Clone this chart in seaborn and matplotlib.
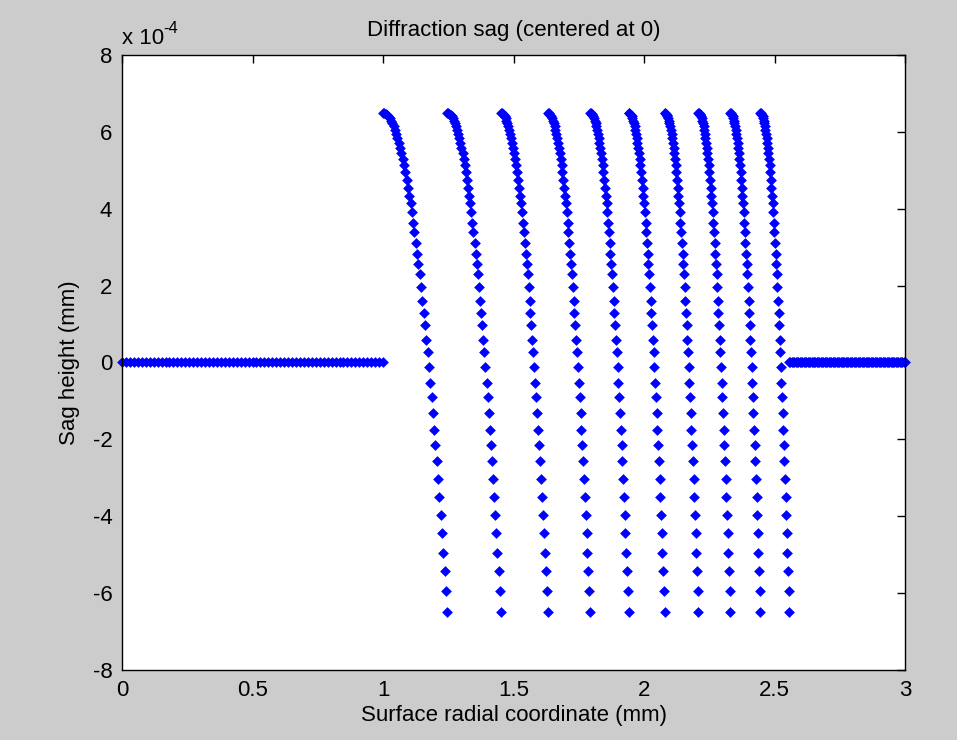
import numpy as np
import pandas as pd
import matplotlib
matplotlib.use("Agg")
import matplotlib.pyplot as plt
import matplotlib.ticker as mticker
import seaborn as sns

# flat parts of the profile (sag = 0): start, stop, number of samples
flat_left = (0.0, 1.0, 67)
flat_right = (2.556, 3.0, 89)

# zone edges (mm)
zone_edges = [1.0, 1.246, 1.451, 1.631, 1.793, 1.941, 2.079, 2.208, 2.330, 2.445, 2.556]

# sag levels inside one zone, in units of 1e-4 mm (same in every zone)
zone_sag = [6.50, 6.49, 6.47, 6.44, 6.40, 6.35, 6.29, 6.22, 6.14, 6.05,
            5.95, 5.84, 5.72, 5.59, 5.45, 5.30, 5.14, 4.96, 4.75, 4.55,
            4.34, 4.15, 3.91, 3.63, 3.39, 3.10, 2.83, 2.56, 2.29, 1.97,
            1.61, 1.29, 0.97, 0.59, 0.27, -0.11, -0.53, -0.90, -1.32, -1.75,
            -2.15, -2.57, -3.04, -3.51, -3.97, -4.44, -4.96, -5.43, -5.95, -6.50]

xs, ys = [], []
for a, b, n in (flat_left, flat_right):
    xs.append(np.linspace(a, b, n))
    ys.append(np.zeros(n))
for a, b in zip(zone_edges[:-1], zone_edges[1:]):
    xs.append(np.linspace(a, b, len(zone_sag)))
    ys.append(np.array(zone_sag) * 1e-4)
df = pd.DataFrame({"r": np.concatenate(xs), "sag": np.concatenate(ys)})

sns.set_style("white")
plt.rcParams["font.family"] = ["Liberation Sans", "DejaVu Sans"]
plt.rcParams["text.color"] = "black"
plt.rcParams["axes.labelcolor"] = "black"
fs = 16

fig = plt.figure(figsize=(9.57, 7.40), dpi=100, facecolor="#cccccc")
ax = fig.add_axes([0.1275, 0.0946, 0.8182, 0.8311])
ax.set_facecolor("white")

sns.scatterplot(data=df, x="r", y="sag", ax=ax, marker="D", s=30,
                color="blue", edgecolor="blue", linewidth=0, clip_on=False)

ax.set_xlim(0, 3)
ax.set_ylim(-8e-4, 8e-4)
ax.set_xticks([0, 0.5, 1, 1.5, 2, 2.5, 3])
ax.xaxis.set_major_formatter(mticker.FuncFormatter(lambda v, p: f"{v:g}"))
ax.set_yticks(np.arange(-8, 9, 2) * 1e-4)
ax.yaxis.set_major_formatter(mticker.FuncFormatter(lambda v, p: f"{round(v * 1e4):d}"))
ax.tick_params(direction="in", length=6, width=1, top=True, right=True,
               labelsize=fs, colors="black", pad=7)
for s in ax.spines.values():
    s.set_color("black")
    s.set_linewidth(1)

ax.set_xlabel("Surface radial coordinate (mm)", fontsize=fs, labelpad=3)
ax.set_ylabel("Sag height (mm)", fontsize=fs, labelpad=9)
ax.set_title("Diffraction sag (centered at 0)", fontsize=fs, pad=14)
# MATLAB-style exponent label above the y axis
ax.annotate("x 10", xy=(0, 1), xycoords="axes fraction", xytext=(0, 4),
            textcoords="offset points", fontsize=fs, ha="left", va="bottom")
ax.annotate("-4", xy=(0, 1), xycoords="axes fraction", xytext=(30, 14),
            textcoords="offset points", fontsize=fs * 0.75, ha="left", va="bottom")

fig.savefig("out.png", dpi=100, facecolor=fig.get_facecolor())
